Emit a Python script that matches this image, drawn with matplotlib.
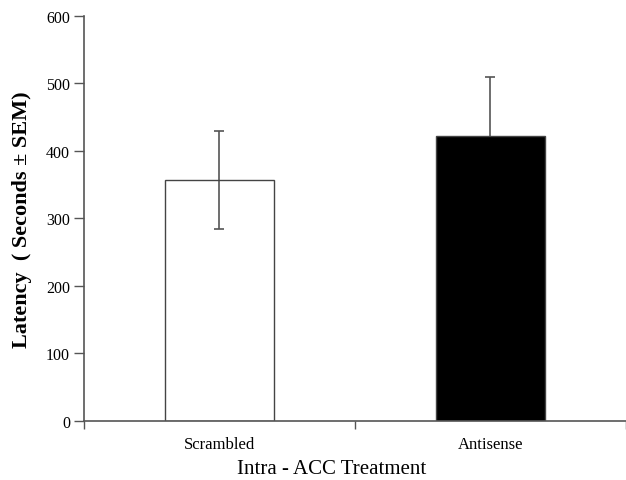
import matplotlib
matplotlib.use("Agg")
import matplotlib.pyplot as plt

categories = ["Scrambled", "Antisense"]
means = [357, 422]
sems = [73, 87]
colors = ["none", "black"]
yticks = [0, 100, 200, 300, 400, 500, 600]

plt.rcParams['font.family'] = ['Liberation Serif', 'DejaVu Serif']

fig = plt.figure(figsize=(6.26, 4.81), dpi=100)
ax = fig.add_axes([0.134, 0.1227, 0.866, 0.842])

x = list(range(len(categories)))
ax.bar(x, means, width=0.40, color=colors, edgecolor="#444444", linewidth=1.0, zorder=2)
ax.errorbar(x, means, yerr=sems, fmt="none", ecolor="#555555", elinewidth=1.2,
            capsize=3.5, capthick=1.2, zorder=1)

ax.set_xlim(-0.5, 1.5)
ax.set_ylim(0, 600)
ax.set_yticks(yticks)
ax.set_yticklabels([str(v) for v in yticks], fontsize=11.5)
ax.set_xticks([-0.5, 0.5, 1.5])
ax.set_xticklabels([])
ax.set_xticks(x, minor=True)
ax.set_xticklabels(categories, minor=True, fontsize=12)
ax.tick_params(axis="x", which="minor", length=0, pad=11)
ax.tick_params(axis="x", which="major", length=6, width=1, color="#555555", direction="out")
ax.tick_params(axis="y", length=7, width=1, color="#555555", direction="out", pad=3)

for s in ["top", "right"]:
    ax.spines[s].set_visible(False)
for s in ["left", "bottom"]:
    ax.spines[s].set_color("#555555")
    ax.spines[s].set_linewidth(1.2)

ax.set_ylabel("Latency  ( Seconds ± SEM)", fontsize=16, fontweight="bold", labelpad=10)
ax.set_xlabel("Intra - ACC Treatment", fontsize=15, labelpad=4)
ax.xaxis.set_label_coords(0.457, -0.095)

fig.savefig("out.png", dpi=100)
